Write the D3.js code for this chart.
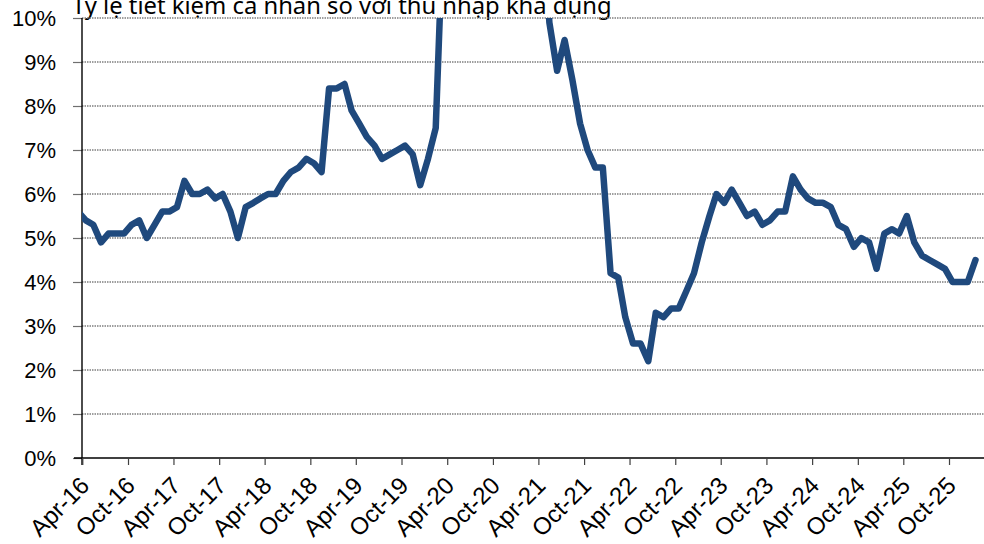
<!DOCTYPE html>
<html>
<head>
<meta charset="utf-8">
<script src="https://cdn.jsdelivr.net/npm/d3@7"></script>
<style>
  html, body { margin: 0; padding: 0; background: #fff; }
  svg { display: block; }
</style>
</head>
<body>
<div id="chart"></div>
<script>
// Personal saving rate, % of disposable income, monthly (first value = Mar 2016)
var firstMonth = '2016-03';
var rate2016 = [5.6, 5.4, 5.3, 4.9, 5.1, 5.1, 5.1, 5.3, 5.4, 5.0];
var rate2017 = [5.3, 5.6, 5.6, 5.7, 6.3, 6.0, 6.0, 6.1, 5.9, 6.0, 5.6, 5.0];
var rate2018 = [5.7, 5.8, 5.9, 6.0, 6.0, 6.3, 6.5, 6.6, 6.8, 6.7, 6.5, 8.4];
var rate2019 = [8.4, 8.5, 7.9, 7.6, 7.3, 7.1, 6.8, 6.9, 7.0, 7.1, 6.9, 6.2];
var rate2020 = [6.8, 7.5, 12.0, 31.8, 23.8, 19.2, 18.5, 14.4, 14.0, 13.1, 12.6, 13.3];
var rate2021 = [19.6, 13.4, 26.3, 12.6, 9.9, 8.8, 9.5, 8.6, 7.6, 7.0, 6.6, 6.6];
var rate2022 = [4.2, 4.1, 3.2, 2.6, 2.6, 2.2, 3.3, 3.2, 3.4, 3.4, 3.8, 4.2];
var rate2023 = [4.9, 5.5, 6.0, 5.8, 6.1, 5.8, 5.5, 5.6, 5.3, 5.4, 5.6, 5.6];
var rate2024 = [6.4, 6.1, 5.9, 5.8, 5.8, 5.7, 5.3, 5.2, 4.8, 5.0, 4.9, 4.3];
var rate2025 = [5.1, 5.2, 5.1, 5.5, 4.9, 4.6, 4.5, 4.4, 4.3, 4.0, 4.0, 4.0];
var rate2026 = [4.5];

var xTickLabels = ['Apr-16', 'Oct-16', 'Apr-17', 'Oct-17', 'Apr-18', 'Oct-18', 'Apr-19',
  'Oct-19', 'Apr-20', 'Oct-20', 'Apr-21', 'Oct-21', 'Apr-22', 'Oct-22', 'Apr-23',
  'Oct-23', 'Apr-24', 'Oct-24', 'Apr-25', 'Oct-25'];
var yTicks = [0, 1, 2, 3, 4, 5, 6, 7, 8, 9, 10];

var title = 'Tỷ lệ tiết kiệm cá nhân so với thu nhập khả dụng';

var width = 984, height = 544;
var plot = { left: 82, right: 984, top: 18, bottom: 458 };

var parseMonth = d3.timeParse('%Y-%m');
var parseTick = d3.timeParse('%b-%y');

var values = [].concat(rate2016, rate2017, rate2018, rate2019, rate2020,
  rate2021, rate2022, rate2023, rate2024, rate2025, rate2026);
var start = parseMonth(firstMonth);
// points sit in the middle of their month
var data = values.map(function(v, i) {
  var m = d3.timeMonth.offset(start, i);
  return { date: d3.timeDay.offset(m, 14), value: v };
});
var tickDates = xTickLabels.map(parseTick);

var x = d3.scaleTime()
  .domain([tickDates[0], tickDates[tickDates.length - 1]])
  .range([82.3, 949]);
var y = d3.scaleLinear().domain([0, 10]).range([plot.bottom, plot.top]);

var svg = d3.select('#chart').append('svg')
  .attr('width', width)
  .attr('height', height);

svg.append('rect').attr('width', width).attr('height', height).attr('fill', '#fff');

svg.append('defs').append('clipPath').attr('id', 'plotClip')
  .append('rect')
  .attr('x', plot.left).attr('y', plot.top)
  .attr('width', plot.right - plot.left).attr('height', plot.bottom - plot.top);

// title, partly cut off at the top edge
svg.append('text')
  .attr('x', 72)
  .attr('y', 14)
  .attr('font-family', '"Noto Sans", sans-serif')
  .attr('font-size', 23.8)
  .attr('fill', '#000')
  .text(title);

// horizontal gridlines
svg.append('g')
  .selectAll('line')
  .data(yTicks.filter(function(d) { return d > 0; }))
  .enter().append('line')
  .attr('x1', plot.left).attr('x2', plot.right)
  .attr('y1', function(d) { return y(d); })
  .attr('y2', function(d) { return y(d); })
  .attr('stroke', '#7f7f7f')
  .attr('stroke-width', 1.3)
  .attr('stroke-dasharray', '1.5,1');

// y axis
var yAxis = svg.append('g')
  .attr('transform', 'translate(' + plot.left + ',0)')
  .call(d3.axisLeft(y).tickValues(yTicks).tickSize(9).tickPadding(17)
    .tickFormat(function(d) { return d + '%'; }));
yAxis.select('.domain').remove();
yAxis.selectAll('.tick line').attr('stroke', '#6f6f6f').attr('stroke-width', 1.2);
yAxis.selectAll('.tick text')
  .attr('font-family', '"Liberation Sans", Arial, sans-serif')
  .attr('font-size', 22)
  .attr('fill', '#000');
svg.append('line')
  .attr('x1', plot.left).attr('x2', plot.left)
  .attr('y1', plot.top).attr('y2', plot.bottom + 7)
  .attr('stroke', '#000').attr('stroke-width', 1.4);

// x axis
var xAxis = svg.append('g')
  .attr('transform', 'translate(0,' + plot.bottom + ')')
  .call(d3.axisBottom(x).tickValues(tickDates).tickSize(7)
    .tickFormat(function(d, i) { return xTickLabels[i]; }));
xAxis.select('.domain')
  .attr('d', 'M' + (plot.left - 8) + ',0H' + plot.right)
  .attr('stroke', '#000').attr('stroke-width', 1.4);
xAxis.selectAll('.tick line').attr('stroke', '#404040').attr('stroke-width', 1.2);
xAxis.selectAll('.tick text')
  .attr('font-family', '"Liberation Sans", Arial, sans-serif')
  .attr('font-size', 24)
  .attr('fill', '#000')
  .attr('text-anchor', 'end')
  .attr('dy', null)
  .attr('y', 0)
  .attr('transform', 'translate(8,29) rotate(-45)');

// saving rate line
var line = d3.line()
  .x(function(d) { return x(d.date); })
  .y(function(d) { return y(d.value); });

svg.append('path')
  .datum(data)
  .attr('clip-path', 'url(#plotClip)')
  .attr('d', line)
  .attr('fill', 'none')
  .attr('stroke', '#1f497d')
  .attr('stroke-width', 6.5)
  .attr('stroke-linejoin', 'round')
  .attr('stroke-linecap', 'round');
</script>
</body>
</html>
